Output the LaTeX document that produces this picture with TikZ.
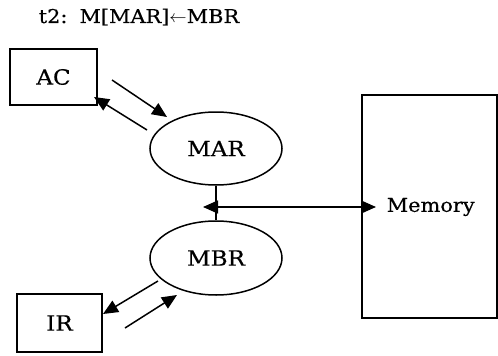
\documentclass[tikz,border=0pt]{standalone}
\usepackage{fontspec}
\setmainfont{DejaVu Serif}[FakeStretch=1.1,FakeBold=0.5]
\usetikzlibrary{arrows.meta,shapes.geometric}
\begin{document}
\begin{tikzpicture}[x=1pt,y=-1pt,
  line width=1.5pt,
  box/.style={draw,inner sep=0pt},
  oval/.style={draw,ellipse,inner sep=0pt},
  lbl/.style={font=\fontsize{21}{21}\selectfont},
  sml/.style={font=\fontsize{19}{19}\selectfont},
  arr/.style={-{Triangle[length=15pt,width=13pt]}}]
\useasboundingbox (0,0) rectangle (498,356);
\node[sml,anchor=base west,inner sep=0pt] (title) at (38,23) {t2:\, M[MAR]$\leftarrow$MBR};
\node[box,minimum width=87pt,minimum height=56pt,lbl] (ac) at (53.5,77) {AC};
\node[oval,minimum width=132pt,minimum height=73pt,lbl] (mar) at (216,148.5) {MAR};
\node[oval,minimum width=132pt,minimum height=74pt,lbl] (mbr) at (216,258) {MBR};
\node[box,minimum width=85pt,minimum height=58pt,lbl] (ir) at (59.5,323) {IR};
\node[box,minimum width=135pt,minimum height=223pt] (mem) at (429.5,206.5) {};
\node[sml,anchor=west,inner sep=0pt] (memlbl) at (386,207) {Memory};
\coordinate (a1s) at (112,80); \coordinate (a1e) at (167,117);
\coordinate (a2s) at (147,130); \coordinate (a2e) at (94,97);
\coordinate (b1s) at (158,281); \coordinate (b1e) at (103,314);
\coordinate (b2s) at (125,328); \coordinate (b2e) at (177,295);
\coordinate (dl) at (203,207); \coordinate (dr) at (376,207);
\draw[arr] (a1s) -- (a1e);
\draw[arr] (a2s) -- (a2e);
\draw[arr] (b1s) -- (b1e);
\draw[arr] (b2s) -- (b2e);
\draw (mar.south) -- (mbr.north);
\draw[{Triangle[length=15pt,width=13pt]}-{Triangle[length=15pt,width=13pt]}] (dl) -- (dr);
\end{tikzpicture}
\end{document}
